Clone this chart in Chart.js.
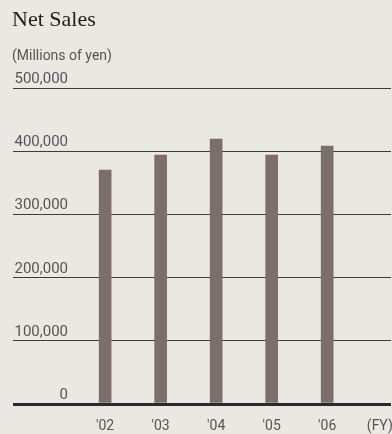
<!DOCTYPE html>
<html>
<head>
<meta charset="utf-8">
<script src="https://cdn.jsdelivr.net/npm/chart.js@4/dist/chart.umd.min.js"></script>
<style>
  html, body { margin: 0; padding: 0; background: #ebe7e3; }
  #wrap { position: relative; width: 392px; height: 434px; overflow: hidden; }
  #title {
    position: absolute; left: 12px; top: 6px;
    font: 22px "Liberation Serif", "DejaVu Serif", serif; color: #222;
  }
  #unit {
    position: absolute; left: 12px; top: 47px;
    font: 14px Roboto, sans-serif; color: #555;
  }
  canvas { position: absolute; left: 0; top: 0; }
</style>
</head>
<body>
<div id="wrap">
  <canvas id="chart" width="392" height="434"></canvas>
  <div id="title">Net Sales</div>
  <div id="unit">(Millions of yen)</div>
</div>
<script>
'use strict';

const CATEGORIES = ["'02", "'03", "'04", "'05", "'06"];
const UNIT_LABEL = '(FY)';
const NET_SALES = [370000, 394000, 419000, 394000, 408000];
const Y_TICKS = [0, 100000, 200000, 300000, 400000, 500000];

const X_LABELS = CATEGORIES.concat([UNIT_LABEL]);

// y labels sit above each gridline, right aligned, inside the plot
const yLabels = {
  id: 'yLabels',
  afterDraw(chart) {
    const { ctx } = chart;
    const y = chart.scales.y;
    ctx.save();
    ctx.font = '15px Roboto, sans-serif';
    ctx.fillStyle = '#555';
    ctx.textAlign = 'right';
    ctx.textBaseline = 'alphabetic';
    Y_TICKS.forEach((v) => {
      ctx.fillText(v.toLocaleString('en-US'), 68, y.getPixelForValue(v) - 5);
    });
    ctx.restore();
  },
};

new Chart(document.getElementById('chart'), {
  type: 'bar',
  data: {
    datasets: [
      {
        data: NET_SALES.map((v, i) => ({ x: i, y: v })),
        backgroundColor: '#7b6f6b',
        borderWidth: 0,
        barThickness: 12,
      },
    ],
  },
  options: {
    responsive: false,
    animation: false,
    layout: { padding: { top: 88, left: 13, right: 1, bottom: 0 } },
    plugins: {
      legend: { display: false },
      tooltip: { enabled: false },
    },
    scales: {
      x: {
        type: 'linear',
        offset: false,
        bounds: 'data',
        min: -1.66,
        max: 5.15,
        afterBuildTicks: (s) => {
          s.ticks = X_LABELS.map((_, i) => ({ value: i }));
        },
        afterFit: (s) => {
          s.height = 30;
          s.paddingLeft = 0;
          s.paddingRight = 0;
        },
        ticks: {
          autoSkip: false,
          maxRotation: 0,
          padding: 6,
          color: '#555',
          font: { family: 'Roboto, sans-serif', size: 14 },
          // keep the unit label inside the canvas edge
          callback: (v) => (v === CATEGORIES.length ? X_LABELS[v] + '\u2009\u2009' : X_LABELS[v]),
        },
        grid: { display: false, offset: false },
        border: { display: false },
      },
      y: {
        min: 0,
        max: 500000,
        afterBuildTicks: (s) => {
          s.ticks = Y_TICKS.map((v) => ({ value: v }));
        },
        afterFit: (s) => { s.width = 0; },
        ticks: { display: false },
        grid: {
          drawTicks: false,
          color: (c) => (c.tick && c.tick.value === 0 ? '#2a2a2a' : '#3c3c3c'),
          lineWidth: (c) => (c.tick && c.tick.value === 0 ? 3 : 1),
        },
        border: { display: false },
      },
    },
  },
  plugins: [yLabels],
});
</script>
</body>
</html>
